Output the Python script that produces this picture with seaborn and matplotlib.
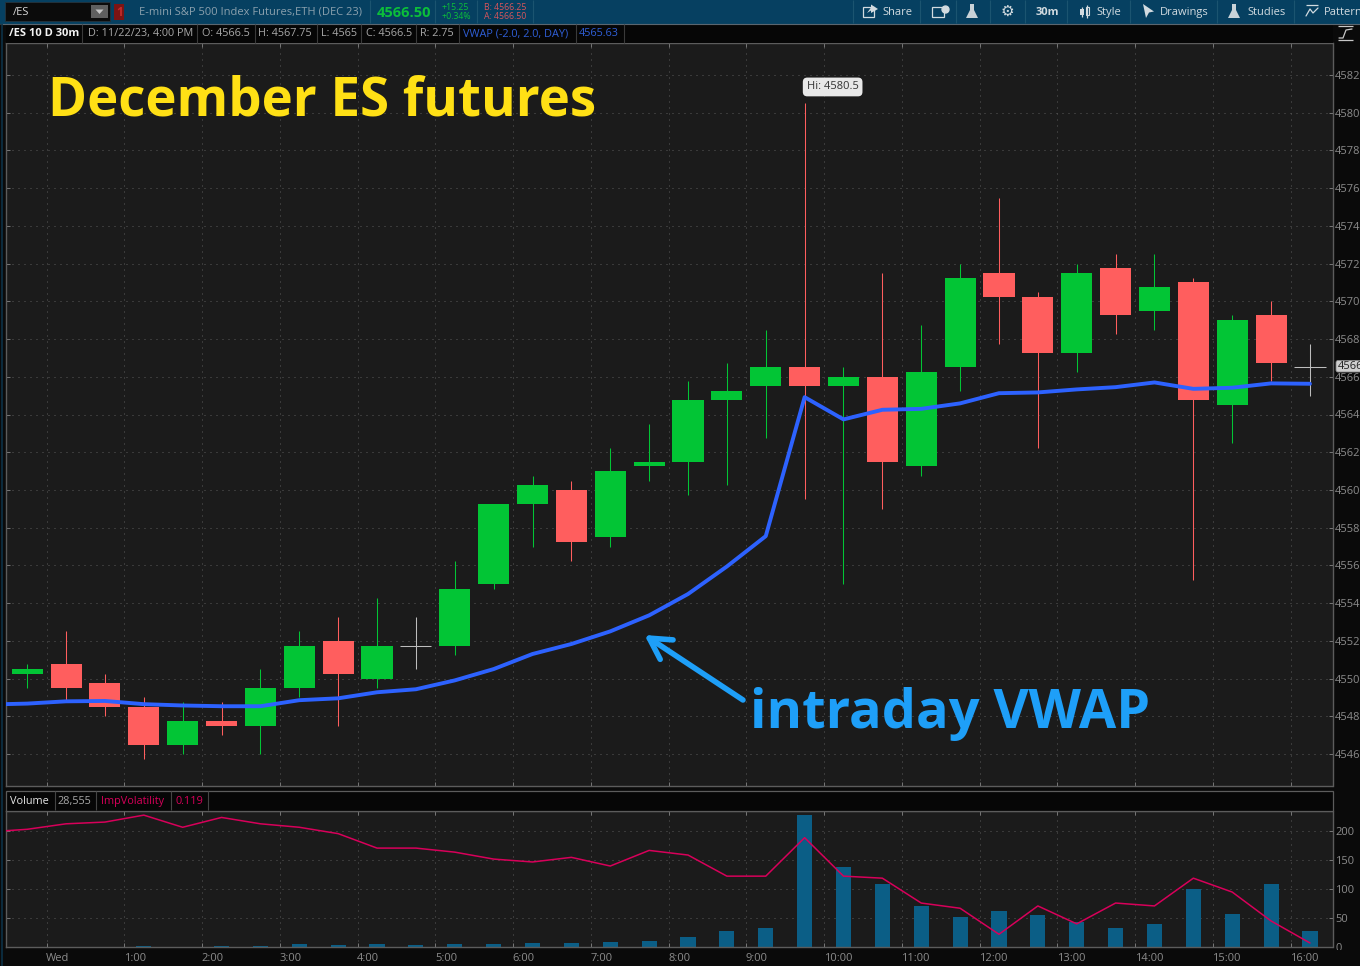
import seaborn as sns
import matplotlib.pyplot as plt
from matplotlib.patches import Rectangle, FancyBboxPatch, Polygon
from matplotlib.transforms import ScaledTranslation
import numpy as np

# 30 minute bars
opens = [4550.25, 4550.75, 4549.75, 4548.5, 4546.5, 4547.75, 4547.5, 4549.5, 4552, 4550, 4551.75, 4551.75,
         4555, 4559.25, 4560, 4557.5, 4561.25, 4561.5, 4564.75, 4565.5, 4566.5, 4565.5, 4566, 4561.25,
         4566.5, 4571.5, 4570.25, 4567.25, 4571.75, 4569.5, 4571, 4564.5, 4569.25, 4566.5]
highs = [4550.75, 4552.5, 4550.25, 4549, 4548.75, 4548.75, 4550.5, 4552.5, 4553.25, 4554.25, 4553.25, 4556.25,
         4559.25, 4560.75, 4560.5, 4562.25, 4563.5, 4565.75, 4566.75, 4568.5, 4580.5, 4566.5, 4571.5, 4568.75,
         4572, 4575.5, 4570.5, 4572, 4572.5, 4572.5, 4571.25, 4569.25, 4570, 4567.75]
lows = [4549.5, 4548.75, 4548, 4545.75, 4546, 4547, 4546, 4549, 4547.5, 4549.5, 4550.5, 4551.25,
        4554.75, 4557, 4556.25, 4557, 4560.5, 4559.75, 4560.25, 4562.75, 4559.5, 4555, 4559, 4560.75,
        4565.25, 4567.75, 4562.25, 4566.25, 4568.25, 4568.5, 4555.25, 4562.5, 4565.75, 4565]
closes = [4550.5, 4549.5, 4548.5, 4546.5, 4547.75, 4547.5, 4549.5, 4551.75, 4550.25, 4551.75, 4551.75, 4554.75,
          4559.25, 4560.25, 4557.25, 4561, 4561.5, 4564.75, 4565.25, 4566.5, 4565.5, 4566, 4561.5, 4566.25,
          4571.25, 4570.25, 4567.25, 4571.5, 4569.25, 4570.75, 4564.75, 4569, 4566.75, 4566.5]

# first entry of these two belongs to the bar cut off by the left edge
vwap = [4548.62, 4548.67, 4548.79, 4548.81, 4548.64, 4548.57, 4548.53, 4548.53, 4548.85, 4548.95, 4549.27, 4549.43,
        4549.9, 4550.5, 4551.3, 4551.83, 4552.5, 4553.35, 4554.48, 4555.94, 4557.55, 4564.92, 4563.74, 4564.25,
        4564.3, 4564.59, 4565.13, 4565.17, 4565.33, 4565.45, 4565.7, 4565.36, 4565.42, 4565.65, 4565.63]
imp_vol = [199, 203.5, 213, 216, 228, 207, 224, 213, 207, 196, 171, 171, 164, 152, 147, 155, 140, 167, 159,
           122.5, 122.5, 189, 122.5, 119, 76, 67, 22, 71, 40, 76, 71, 119, 95, 45, 7]
volume = [0, 0, 0, 2.3, 0, 2.3, 2.3, 5.7, 4, 5.7, 4, 5.7, 5.7, 7.5, 7.5, 9, 11, 18, 28, 32,
          228, 139, 109, 71, 52, 63, 56, 44, 33, 40, 101, 57.5, 109, 28]

time_labels = ["Wed", "1:00", "2:00", "3:00", "4:00", "5:00", "6:00", "7:00", "8:00", "9:00", "10:00",
               "11:00", "12:00", "13:00", "14:00", "15:00", "16:00"]
price_ticks = list(range(4546, 4584, 2))
volume_ticks = [0, 50, 100, 150, 200]

BG = "#1b1b1b"
OUTER = "#0a0a0a"
BAR = "#064061"
SPINE = "#5c5c5c"
GRID = "#5a5a5a"
TICKTXT = "#8c8c8c"
GREEN = "#02c535"
RED = "#ff5e5e"
BLUE = "#2d62ff"
CRIMSON = "#d8005a"

sns.set_theme(style="dark", rc={"axes.facecolor": BG, "figure.facecolor": OUTER, "savefig.facecolor": OUTER})
plt.rcParams["font.family"] = ["Open Sans", "DejaVu Sans"]

W, H = 1360, 966
fig = plt.figure(figsize=(W / 100, H / 100), dpi=100)


def px_axes(left, top, right, bottom):
    return fig.add_axes([left / W, 1 - bottom / H, (right - left) / W, (bottom - top) / H])


ax = px_axes(5.5, 43, 1332.5, 786)
ax_v = px_axes(5.5, 810.5, 1332.5, 947)

bars = np.arange(len(closes))
line_x = np.arange(-1, len(closes))
xlim = (-0.558, 33.58)
x_ticks = np.arange(len(time_labels)) * 2 + 0.5

# candles
for i in bars:
    o, h, l, c = opens[i], highs[i], lows[i], closes[i]
    col = "#bdbdbd" if o == c else (GREEN if c > o else RED)
    ax.vlines(i, l, h, color=col, lw=0.75, zorder=2).set_snap(True)
    if o == c:
        ax.hlines(o, i - 0.4, i + 0.4, color=col, lw=0.75, zorder=2).set_snap(True)
    else:
        ax.bar(i, abs(c - o), bottom=min(o, c), width=0.8, color=col, linewidth=0, zorder=3)

sns.lineplot(x=line_x, y=vwap, color=BLUE, lw=2.8, errorbar=None, ax=ax, zorder=4)
ax.set_ylim(4544.3, 4583.7)

ax.annotate("Hi: 4580.5", xy=(20, 4580.5), xytext=(1.5, 11.8), textcoords="offset points", fontsize=8,
            color="#333333", va="center", ha="left", zorder=6,
            bbox=dict(boxstyle="round,pad=0.35,rounding_size=0.4", fc="#e8e8e8", ec="none"))

# volume pane
sns.barplot(x=bars, y=volume, native_scale=True, width=0.39, color="#0b5e86", saturation=1, linewidth=0,
            errorbar=None, ax=ax_v, zorder=2)
sns.lineplot(x=line_x, y=imp_vol, color=CRIMSON, lw=1.1, errorbar=None, ax=ax_v, zorder=3)
ax_v.set_ylim(0, 236)

for a in (ax, ax_v):
    a.set_xlim(*xlim)
    a.set_xticks(x_ticks)
    a.set_xlabel("")
    a.set_ylabel("")
    a.grid(True, color=GRID, lw=0.72, linestyle=(0, (1, 5)))
    a.set_axisbelow(True)
    a.tick_params(axis="x", which="both", direction="in", length=3, width=0.7, color="#777777",
                  top=True, bottom=True)
    a.tick_params(axis="y", which="both", direction="in", length=3, width=0.7, color="#777777", left=True,
                  right=True, labelleft=False, labelright=True, labelsize=8, labelcolor=TICKTXT, pad=2)
    for s in a.spines.values():
        s.set_color(SPINE)
        s.set_linewidth(1)

ax.set_yticks(price_ticks)
ax.set_xticklabels([])
ax_v.set_yticks(volume_ticks)
ax_v.set_xticklabels(time_labels, ha="left", fontsize=8, color=TICKTXT)
ax_v.tick_params(axis="x", pad=4.5)
for t in ax_v.get_xticklabels():
    t.set_transform(t.get_transform() + ScaledTranslation(-0.005, 0, fig.dpi_scale_trans))

# everything around the panes is placed in screen pixels on a top layer
top = fig.add_axes([0, 0, 1, 1], zorder=10)
top.set_xlim(0, W)
top.set_ylim(H, 0)
top.axis("off")
top.patch.set_alpha(0)


def label(x, y, s, color="#a8a8a8", size=7.8, weight="normal", **kw):
    top.text(x, y, s, color=color, fontsize=size, fontweight=weight, va="center", ha="left", **kw)


def seps(xs, y0, y1, color="#3a3a3a"):
    top.vlines(xs, y0, y1, color=color, lw=0.8)


# toolbar
top.add_patch(Rectangle((0, 0), W, 24, fc=BAR, ec="none"))
top.hlines(23.5, 0, W, color="#5a6670", lw=0.8)
top.add_patch(Rectangle((5, 2), 105, 19, fc="#0b0b0b", ec="#22323c", lw=0.7))
top.add_patch(Rectangle((91, 5), 17, 13, fc="#5f5f5f", ec="none"))
top.add_patch(Polygon([[95.5, 9.5], [103.5, 9.5], [99.5, 14]], fc="#c4c4c4", ec="none"))
top.add_patch(Rectangle((114, 4), 10, 16, fc="#7c1414", ec="none"))
label(116.5, 13, "1", color="#c22b2b", size=8.5, weight="bold")
label(13, 12.5, "/ES", color="#d8d8d8", size=8)
label(139, 12, "E-mini S&P 500 Index Futures,ETH (DEC 23)", color="#8ba0ad", size=8)
label(377, 13, "4566.50", color="#0cbf3a", size=10.5, weight="bold")
label(442, 7, "+15.25", color="#0cbf3a", size=6.3)
label(442, 16.5, "+0.34%", color="#0cbf3a", size=6.3)
label(484, 7, "B: 4566.25", color="#d8555b", size=6.3)
label(484, 16.5, "A: 4566.50", color="#d8555b", size=6.3)
seps([370, 435, 477, 532.5, 853, 920, 956, 990, 1025, 1067, 1130, 1217, 1294], 0, 23, color="#1b5470")
for x, s, w in [(882, "Share", "normal"), (1036, "30m", "bold"), (1096, "Style", "normal"),
                (1160, "Drawings", "normal"), (1247, "Studies", "normal"), (1324, "Pattern", "normal")]:
    label(x, 12.5, s, color="#d2dbe0", size=8, weight=w, clip_on=True)

# toolbar icons
ICON = "#d2dbe0"
top.add_patch(Rectangle((863, 7), 11, 10, fc="none", ec=ICON, lw=0.9))
top.add_patch(Polygon([[867, 13], [871, 7.5], [871, 4.5], [878, 9], [871, 13], [871, 10.5]], fc=ICON, ec="none"))
top.add_patch(Rectangle((932, 7), 12, 10, fc="none", ec=ICON, lw=0.9))
top.plot([945], [9], "o", ms=5, color=ICON)
for fx in (972, 1234):
    top.add_patch(Polygon([[fx - 2, 4], [fx + 2, 4], [fx + 2, 10], [fx + 6, 18], [fx - 6, 18], [fx - 2, 10]],
                          fc="#c8d2d8", ec="none"))
label(1001, 11, "\u2699", color=ICON, size=11, fontfamily="DejaVu Sans")
top.vlines(1082, 7, 17, color=ICON, lw=0.9)
top.vlines(1087, 5, 18, color=ICON, lw=0.9)
top.add_patch(Rectangle((1080, 9), 3.5, 6, fc=ICON, ec="none"))
top.add_patch(Rectangle((1085.5, 7), 3.5, 8, fc=BAR, ec=ICON, lw=0.8))
top.add_patch(Polygon([[1143, 4], [1154, 11.5], [1149, 12.5], [1146, 18]], fc=ICON, ec="none"))
top.hlines(5, 1306, 1318, color=ICON, lw=0.9)
top.plot([1306, 1310, 1313, 1318], [16, 9, 13, 8], color=ICON, lw=0.9)

# study header strip
top.add_patch(Rectangle((5.5, 24), 1327, 19, fc="#060606", ec="none"))
seps([82, 197, 254.5, 317, 361, 416, 459, 575.5, 623.6], 24, 43)
label(9, 33.5, "/ES 10 D 30m", color="#f2f2f2", size=8, weight="bold")
for x, s in [(87.5, "D: 11/22/23, 4:00 PM"), (202, "O: 4566.5"), (258.5, "H: 4567.75"), (321, "L: 4565"),
             (365.5, "C: 4566.5"), (420.5, "R: 2.75")]:
    label(x, 33.5, s)
label(463, 33.5, "VWAP (-2.0, 2.0, DAY)", color="#2f5fd8")
label(579, 33.5, "4565.63", color="#2f5fd8")

# volume header strip
top.add_patch(Rectangle((5.5, 790.5), 1327, 20, fc="#060606", ec=SPINE, lw=0.9))
seps([54.6, 96, 171, 207.5], 791, 810, color="#444444")
label(9.5, 801.5, "Volume", color="#e6e6e6")
label(58, 801.5, "28,555")
label(100.5, 801.5, "ImpVolatility", color=CRIMSON)
label(175, 801.5, "0.119", color=CRIMSON)

# edge strip and the scale icon on the right
top.vlines(1.5, 24, H, color="#0c3147", lw=1.2)
top.add_patch(Rectangle((1333.5, 950), 27, 16, fc=OUTER, ec="none"))
top.hlines([26, 40], 1338, 1353, color="#c8c8c8", lw=0.9)
top.plot([1339, 1343, 1346, 1352], [38, 38, 30, 29], color="#c8c8c8", lw=0.9)

# last price tag
top.add_patch(FancyBboxPatch((1336.5, 361), 30, 10.5, boxstyle="round,pad=0.5,rounding_size=2", fc="#cfcfcf",
                             ec="#8a8a8a", lw=0.6))
label(1338, 366.5, "4566.50", color="#222222", size=8, clip_on=False)

# callouts
top.text(48, 115, "December ES futures", color="#ffe015", fontsize=38, fontweight="bold", family="Open Sans",
         va="baseline", ha="left")
top.text(750, 728, "intraday VWAP", color="#1e9ff8", fontsize=39, fontweight="bold", family="Open Sans",
         va="baseline", ha="left")
top.annotate("", xy=(644.5, 635), xytext=(743, 700), xycoords="data", textcoords="data",
             arrowprops=dict(arrowstyle="->,head_length=0.75,head_width=0.42", mutation_scale=20, color="#1e9ff8",
                             lw=4, shrinkA=0, shrinkB=0))

fig.savefig("out.png", dpi=100)
plt.close()
